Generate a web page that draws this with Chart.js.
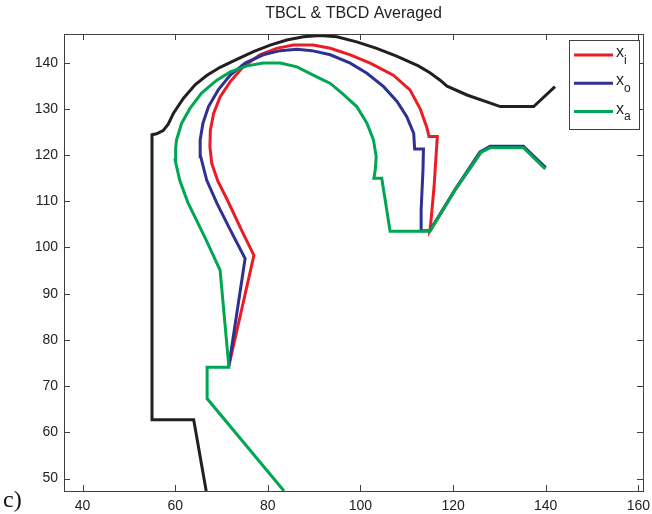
<!DOCTYPE html>
<html>
<head>
<meta charset="utf-8">
<script src="https://cdn.jsdelivr.net/npm/chart.js@4.4.0/dist/chart.umd.min.js"></script>
<style>
    html, body { margin: 0; padding: 0; background: #fff; }
    .tb-chart-wrapper { position: relative; width: 652px; height: 514px; }
</style>
</head>
<body>
<div class="tb-chart-wrapper">
    <canvas id="tb-chart" width="652" height="514"></canvas>
</div>
<script>
// boundary (black)
var boundaryX = [66.7, 64.0, 55.0, 55.0, 56.0, 57.4, 58.5, 59.6, 61.8, 64.3, 66.8, 69.7, 73.3, 76.9, 80.5, 84.1, 87.7, 91.3, 94.9, 99.2, 103.5, 107.8, 112.5, 115.0, 117.2, 118.7, 123.0, 130.2, 137.4, 142.0];
var boundaryY = [47.3, 62.7, 62.7, 124.4, 124.6, 125.3, 126.7, 129.0, 132.3, 135.2, 137.2, 139.0, 140.7, 142.4, 143.8, 144.9, 145.6, 145.9, 145.6, 144.5, 143.1, 141.4, 139.3, 137.8, 136.2, 134.9, 133.0, 130.5, 130.5, 134.8];

// x_i (red)
var innerX = [71.6, 77.0, 74.3, 71.4, 69.2, 67.9, 67.5, 67.6, 68.3, 69.7, 71.9, 74.7, 78.3, 81.9, 85.5, 89.8, 93.5, 97.8, 102.1, 107.1, 110.7, 112.9, 114.3, 114.8, 116.6, 116.5, 115.9, 115.2, 115.0, 120.4, 126.0, 128.0, 135.2, 139.9];
var innerY = [74.4, 98.3, 103.8, 110.0, 114.4, 118.2, 121.8, 125.4, 129.0, 132.6, 135.9, 139.1, 141.7, 143.1, 143.8, 143.8, 143.1, 141.7, 139.9, 137.3, 134.1, 130.0, 126.1, 124.0, 124.0, 122.6, 113.2, 105.5, 103.6, 112.4, 120.6, 121.7, 121.7, 117.1];

// x_o (blue)
var outerX = [71.6, 75.1, 71.9, 69.0, 66.8, 65.5, 65.4, 66.0, 67.2, 69.3, 71.9, 75.1, 79.0, 82.7, 86.3, 89.5, 93.5, 97.8, 101.4, 105.0, 107.9, 110.0, 111.5, 111.7, 113.6, 113.5, 113.1, 113.1, 115.0, 120.4, 125.8, 128.0, 135.2, 140.0];
var outerY = [74.4, 97.6, 103.8, 109.6, 114.6, 119.7, 123.3, 126.9, 130.5, 134.1, 137.3, 139.9, 141.7, 142.6, 142.9, 142.6, 141.7, 139.9, 137.7, 134.8, 131.6, 128.3, 124.7, 121.3, 121.3, 116.8, 108.1, 103.6, 103.6, 112.5, 120.7, 121.9, 121.9, 117.3];

// x_a (green)
var avgX = [83.5, 66.9, 66.9, 71.6, 69.7, 66.5, 62.8, 61.0, 60.0, 60.1, 60.3, 61.4, 63.2, 65.7, 69.0, 71.9, 75.5, 79.0, 82.7, 86.3, 89.8, 93.5, 96.0, 99.2, 101.4, 102.8, 103.4, 103.2, 102.9, 104.6, 106.4, 115.0, 120.4, 126.0, 128.0, 135.2, 139.9];
var avgY = [47.3, 67.3, 74.1, 74.1, 95.1, 102.0, 109.6, 114.5, 118.9, 121.5, 123.3, 126.9, 130.1, 133.4, 136.2, 138.0, 139.3, 139.9, 139.9, 139.1, 137.3, 135.5, 133.4, 130.5, 126.9, 123.3, 119.7, 116.8, 115.0, 115.0, 103.5, 103.5, 112.4, 120.6, 121.6, 121.6, 117.0];

var xTicks = [40, 60, 80, 100, 120, 140, 160];
var yTicks = [50, 60, 70, 80, 90, 100, 110, 120, 130, 140];
var seriesNames = ['x', 'x', 'x'];
var seriesSubs = ['i', 'o', 'a'];
var seriesColors = ['#ec1c24', '#2e3192', '#00a651'];

function toPoints(xs, ys) {
    return xs.map(function (x, i) { return { x: x, y: ys[i] }; });
}

var tick_font = { family: "'Liberation Sans', Arial, sans-serif", size: 14 };

// MATLAB style box, inward ticks, legend and panel letter
var frame_plugin = {
    id: 'matlabFrame',
    afterDatasetsDraw: function (chart) {
        var ctx = chart.ctx,
            a = chart.chartArea,
            sx = chart.scales.x,
            sy = chart.scales.y;
        ctx.save();
        ctx.strokeStyle = '#404040';
        ctx.lineWidth = 1;
        ctx.strokeRect(a.left + 0.5, a.top + 0.5, a.right - a.left, a.bottom - a.top);
        ctx.beginPath();
        sx.ticks.forEach(function (t) {
            var px = Math.round(sx.getPixelForValue(t.value)) + 0.5;
            ctx.moveTo(px, a.bottom); ctx.lineTo(px, a.bottom - 6);
            ctx.moveTo(px, a.top); ctx.lineTo(px, a.top + 6);
        });
        sy.ticks.forEach(function (t) {
            var py = Math.round(sy.getPixelForValue(t.value)) + 0.5;
            ctx.moveTo(a.left, py); ctx.lineTo(a.left + 6, py);
            ctx.moveTo(a.right, py); ctx.lineTo(a.right - 6, py);
        });
        ctx.stroke();

        // legend
        var lx = a.right - 74, ly = a.top + 6, lw = 70, lh = 89;
        ctx.fillStyle = '#fff';
        ctx.fillRect(lx, ly, lw, lh);
        ctx.strokeStyle = '#404040';
        ctx.strokeRect(lx + 0.5, ly + 0.5, lw, lh);
        for (var i = 0; i < seriesNames.length; i++) {
            var yy = ly + 15 + i * 28.3;
            ctx.strokeStyle = seriesColors[i];
            ctx.lineWidth = 3;
            ctx.beginPath();
            ctx.moveTo(lx + 5, yy); ctx.lineTo(lx + 44, yy);
            ctx.stroke();
            ctx.fillStyle = '#222';
            ctx.textBaseline = 'alphabetic';
            ctx.textAlign = 'left';
            ctx.font = "16px 'Liberation Sans', Arial, sans-serif";
            ctx.fillText(seriesNames[i], lx + 47, yy + 2);
            ctx.font = "12px 'Liberation Sans', Arial, sans-serif";
            ctx.fillText(seriesSubs[i], lx + 55, yy + 8.5);
        }

        // panel letter
        ctx.fillStyle = '#111';
        ctx.font = "24px 'Liberation Serif', 'Times New Roman', serif";
        ctx.fillText('c)', 3, 507);
        ctx.restore();
    }
};

var ctx = document.getElementById('tb-chart').getContext('2d');
var tb_chart = new Chart(ctx, {
    type: 'scatter',
    data: {
        datasets: [
            { label: 'boundary', data: toPoints(boundaryX, boundaryY), borderColor: '#231f20', order: 4 },
            { label: 'x_i', data: toPoints(innerX, innerY), borderColor: seriesColors[0], order: 3 },
            { label: 'x_o', data: toPoints(outerX, outerY), borderColor: seriesColors[1], order: 2 },
            { label: 'x_a', data: toPoints(avgX, avgY), borderColor: seriesColors[2], order: 1 }
        ]
    },
    options: {
        responsive: false,
        animation: false,
        showLine: true,
        layout: { padding: { left: 0, right: 9, top: 0, bottom: 0 } },
        datasets: {
            scatter: { showLine: true, borderWidth: 3, pointRadius: 0, fill: false, tension: 0 }
        },
        plugins: {
            legend: { display: false },
            tooltip: { enabled: false },
            title: {
                display: true,
                fullSize: false,
                text: 'TBCL & TBCD Averaged',
                color: '#222',
                font: { family: "'Liberation Sans', Arial, sans-serif", size: 16, weight: 'normal', lineHeight: 1.2 },
                padding: { top: 4, bottom: 10.8 }
            }
        },
        scales: {
            x: {
                type: 'linear',
                min: 36,
                max: 161,
                afterFit: function (s) { s.height = 23; s.paddingLeft = 0; s.paddingRight = 0; },
                afterBuildTicks: function (s) { s.ticks = xTicks.map(function (v) { return { value: v }; }); },
                grid: { display: false, drawTicks: false },
                border: { display: false },
                ticks: { padding: 7, color: '#222', font: tick_font, maxRotation: 0, autoSkip: false }
            },
            y: {
                type: 'linear',
                min: 47.3,
                max: 146.2,
                afterFit: function (s) { s.width = 64; s.paddingTop = 0; s.paddingBottom = 0; },
                afterBuildTicks: function (s) { s.ticks = yTicks.map(function (v) { return { value: v }; }); },
                grid: { display: false, drawTicks: false },
                border: { display: false },
                ticks: { padding: 6, color: '#222', font: tick_font, autoSkip: false }
            }
        }
    },
    plugins: [frame_plugin]
});
</script>
</body>
</html>
